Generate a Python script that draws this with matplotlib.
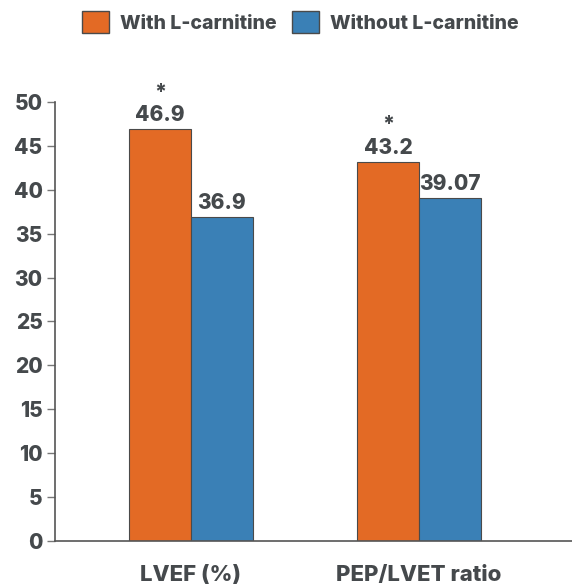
import numpy as np
import matplotlib.pyplot as plt
from matplotlib.patches import Patch

categories = ["LVEF (%)", "PEP/LVET ratio"]
with_lc = [46.9, 43.2]
without_lc = [36.9, 39.07]
with_labels = ["46.9", "43.2"]
without_labels = ["36.9", "39.07"]
significant = [True, True]
yticks = [0, 5, 10, 15, 20, 25, 30, 35, 40, 45, 50]

ORANGE = "#E36A25"
BLUE = "#3A80B6"
TEXT = "#45494C"
EDGE = "#4a4a4a"
WEIGHT = "heavy"

plt.rcParams['font.family'] = ['Inter', 'DejaVu Sans']
plt.rcParams['font.weight'] = 'bold'

fig = plt.figure(figsize=(5.72, 5.84), dpi=100)
ax = fig.add_axes([0.0962, 0.0736, 0.9038, 0.7518])

x = np.arange(len(categories))
w = 0.272
b1 = ax.bar(x - w / 2, with_lc, w, color=ORANGE, edgecolor=EDGE, linewidth=0.8)
b2 = ax.bar(x + w / 2, without_lc, w, color=BLUE, edgecolor=EDGE, linewidth=0.8)

# value labels, plus a star over the significant ones
for rect, lab, sig in zip(b1, with_labels, significant):
    cx = rect.get_x() + rect.get_width() / 2
    h = rect.get_height()
    ax.annotate(lab, (cx, h), xytext=(0, 3), textcoords="offset points",
                ha="center", va="bottom", fontsize=15, fontweight=WEIGHT, color=TEXT)
    if sig:
        ax.annotate("*", (cx, h), xytext=(0, 19), textcoords="offset points",
                    ha="center", va="bottom", fontsize=15, fontweight=WEIGHT, color=TEXT)
for rect, lab in zip(b2, without_labels):
    cx = rect.get_x() + rect.get_width() / 2
    ax.annotate(lab, (cx, rect.get_height()), xytext=(0, 3), textcoords="offset points",
                ha="center", va="bottom", fontsize=15, fontweight=WEIGHT, color=TEXT)

ax.set_xlim(-0.596, 1.671)
ax.set_ylim(0, 50)
ax.set_yticks(yticks)
ax.set_yticklabels([str(t) for t in yticks], fontsize=15, fontweight=WEIGHT, color=TEXT)
ax.set_xticks(x)
ax.set_xticklabels(categories, fontsize=16, fontweight=WEIGHT, color=TEXT)
ax.tick_params(axis="x", length=0, pad=17)
ax.tick_params(axis="y", length=6, width=1, color="#777777", pad=3)

for s in ["top", "right"]:
    ax.spines[s].set_visible(False)
for s in ["left", "bottom"]:
    ax.spines[s].set_color("#555555")
    ax.spines[s].set_linewidth(1.2)

handles = [Patch(facecolor=ORANGE, edgecolor=EDGE, label="With L-carnitine"),
           Patch(facecolor=BLUE, edgecolor=EDGE, label="Without L-carnitine")]
leg = fig.legend(handles=handles, loc="center", bbox_to_anchor=(0.525, 0.962),
                 ncol=2, frameon=False, fontsize=14, handlelength=1.39,
                 handleheight=1.39, handletextpad=0.57, columnspacing=0.77)
for t in leg.get_texts():
    t.set_color(TEXT)
    t.set_fontweight(WEIGHT)

fig.savefig("out.png", dpi=100)
